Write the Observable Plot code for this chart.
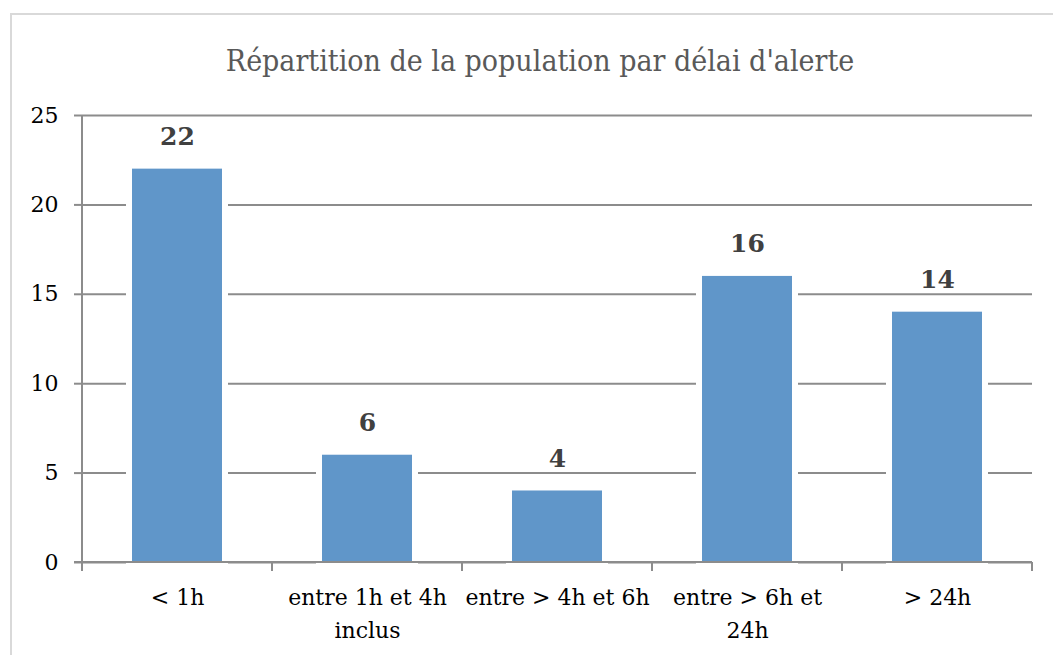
<!DOCTYPE html>
<html>
<head>
<meta charset="utf-8">
<script src="https://cdn.jsdelivr.net/npm/d3@7"></script>
<script src="https://cdn.jsdelivr.net/npm/@observablehq/plot@0.6"></script>
<style>
  html, body { margin: 0; padding: 0; background: #fff; }
  #wrap { position: relative; width: 1053px; height: 655px; overflow: hidden; }
  #border { position: absolute; left: 10px; top: 13px; width: 1200px; height: 800px;
            border-left: 2px solid #d9d9d9; border-top: 2px solid #d9d9d9; }
  #title { position: absolute; left: 0; top: 46px; width: 1080px; text-align: center;
           font-family: "DejaVu Serif Condensed", "DejaVu Serif", serif; font-stretch: condensed;
           font-size: 30px; line-height: 1; color: #595959; white-space: nowrap; }
  #chart { position: absolute; left: 0; top: 0; }
</style>
</head>
<body>
<div id="wrap">
  <div id="border"></div>
  <div id="title">Répartition de la population par délai d'alerte</div>
  <div id="chart"></div>
</div>
<script>
const categories = ["< 1h", "entre 1h et 4h inclus", "entre > 4h et 6h", "entre > 6h et 24h", "> 24h"];
const tickLabels = ["< 1h", "entre 1h et 4h\ninclus", "entre > 4h et 6h", "entre > 6h et\n24h", "> 24h"];
const values = [22, 6, 4, 16, 14];
const yTicks = [0, 5, 10, 15, 20, 25];

const data = categories.map((c, i) => ({cat: c, value: values[i]}));
const labelOf = new Map(categories.map((c, i) => [c, tickLabels[i]]));

const axisColor = "#8c8c8c";

// custom mark: axis lines and ticks at band boundaries
function axisLines(index, scales, values, dims) {
  const x = scales.x, y = scales.y;
  const y0 = y(0);
  const left = dims.marginLeft, right = dims.width - dims.marginRight;
  const g = d3.create("svg:g").attr("stroke", axisColor).attr("stroke-width", 2).attr("fill", "none");
  g.append("line").attr("x1", left).attr("x2", left).attr("y1", y(25)).attr("y2", y0);
  g.append("line").attr("x1", left - 8).attr("x2", right).attr("y1", y0).attr("y2", y0);
  const bounds = categories.map(c => x(c)).concat([x(categories[categories.length - 1]) + x.bandwidth()]);
  for (const b of bounds) g.append("line").attr("x1", b).attr("x2", b).attr("y1", y0).attr("y2", y0 + 9);
  return g.node();
}

const plot = Plot.plot({
  width: 1053,
  height: 655,
  marginLeft: 82,
  marginRight: 21,
  marginTop: 115,
  marginBottom: 93,
  style: {fontFamily: "DejaVu Serif, serif", fontSize: "22px", color: "#000", background: "transparent"},
  x: {domain: categories, padding: 0, label: null},
  y: {domain: [0, 25], label: null},
  marks: [
    Plot.gridY(yTicks, {stroke: axisColor, strokeOpacity: 1, strokeWidth: 2}),
    Plot.axisY(yTicks, {tickSize: 8, tickPadding: 16, stroke: axisColor, strokeWidth: 2, fontSize: 22, fill: "#000", label: null}),
    Plot.axisX({tickSize: 0, tickPadding: 19, tickFormat: d => labelOf.get(d), lineHeight: 1.5, fontSize: 22, fill: "#000", label: null}),
    Plot.barY(data, {x: "cat", y: "value", fill: "#6096c9", insetLeft: 50, insetRight: 50,
      stroke: "white", strokeWidth: 12, paintOrder: "stroke"}),
    axisLines,
    Plot.text(data, {x: "cat", y: "value", text: d => String(d.value), dy: -32, fill: "#404040",
      fontWeight: "bold", fontSize: 25, lineAnchor: "middle"})
  ]
});
document.getElementById("chart").appendChild(plot);
</script>
</body>
</html>
